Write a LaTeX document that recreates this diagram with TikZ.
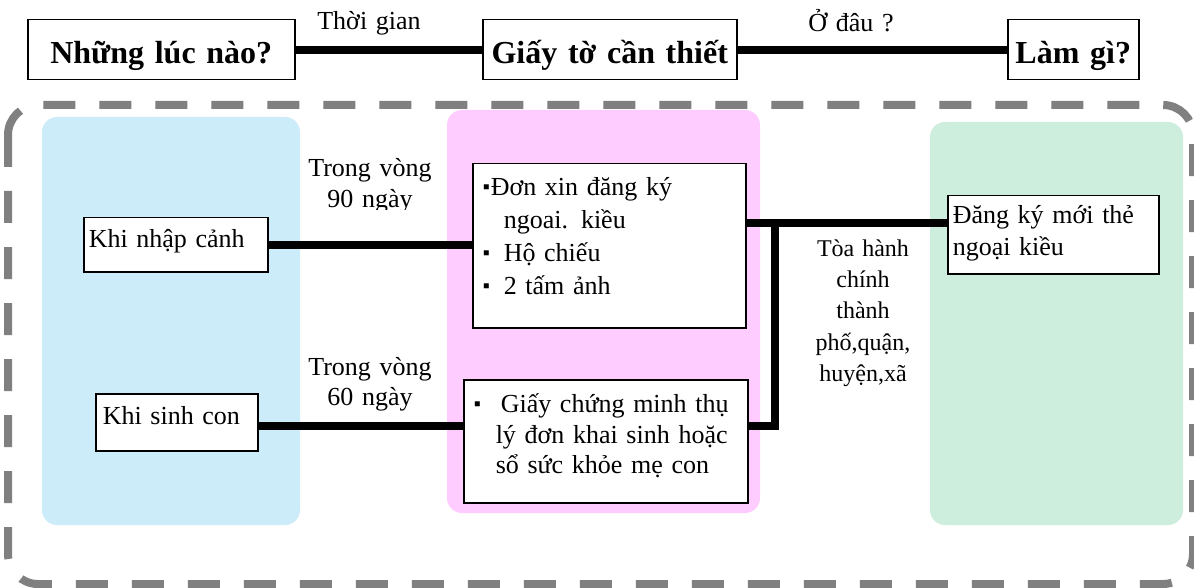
\documentclass[tikz,border=0pt]{standalone}
\usepackage{fontspec}
\setmainfont{Liberation Serif}
\usepackage{tikz}

\definecolor{panelblue}{RGB}{204,236,249}
\definecolor{panelpink}{RGB}{255,204,255}
\definecolor{panelgreen}{RGB}{205,238,220}
\definecolor{framegray}{RGB}{128,128,128}

\newcommand{\blt}{{\fontsize{20}{20}\selectfont\raisebox{2pt}{▪}}}

\begin{document}
\begin{tikzpicture}[x=1pt,y=1pt,yscale=-1,xscale=1,
	title/.style={draw,line width=1.5pt,fill=white,anchor=north west,inner sep=0pt,align=center,font=\fontsize{32}{38}\selectfont\bfseries},
	box/.style={draw,line width=1.5pt,fill=white,anchor=north west,inner ysep=0pt,inner xsep=5pt,align=left,font=\fontsize{26}{31}\selectfont},
	lbl/.style={anchor=base,inner sep=0pt,text width=150pt,align=center,font=\fontsize{26}{31}\selectfont},
	link/.style={line width=8pt},
	panel/.style={rounded corners=15pt}]
	\fill[white] (0,0) rectangle (1194,588);
	\useasboundingbox (0,0) rectangle (1194,588);

	%Shape: Rounded Rect (panels)
	\fill[panel,panelblue] (42,117) rectangle (300,525);
	\fill[panel,panelpink] (447,110) rectangle (760,513);
	\fill[panel,panelgreen] (930,122) rectangle (1183,525);
	%Shape: Rounded Rect (frame)
	\draw[framegray,line width=8pt,rounded corners=30pt,dash pattern=on 32pt off 24pt] (8,105) rectangle (1193,584);

	% Text Node
	\node[title,text width=267pt,text height=44pt,text depth=16pt] (when) at (27,19) {Những lúc nào?};
	\node[title,text width=254pt,text height=44pt,text depth=16pt] (docs) at (482,19) {Giấy tờ cần thiết};
	\node[title,text width=131pt,text height=44pt,text depth=16pt] (what) at (1007,19) {Làm gì?};
	\node[lbl] (time) at (369,30) {Thời gian};
	\node[lbl] (where) at (851,32) {Ở đâu ?};

	%Straight Lines
	\draw[link] (when.east) -- (docs.west);
	\draw[link] (docs.east) -- (docs.east -| what.west);

	% Text Node
	\node[box,text width=174pt,text height=30pt,text depth=24pt] (entry) at (83,217) {Khi nhập cảnh};
	\node[box,text width=148pt,inner xsep=7pt,text height=31pt,text depth=26pt] (birth) at (95,393) {Khi sinh con};
	\node[box,text width=263pt,text height=32pt,text depth=132pt,font=\fontsize{26}{33}\selectfont] (docsa) at (472,163)
		{\hspace*{5pt}\makebox[8pt][l]{\blt}Đơn xin đăng ký\\
		\hspace*{26pt}ngoai. kiều\\
		\hspace*{5pt}\makebox[21pt][l]{\blt}Hộ chiếu\\
		\hspace*{5pt}\makebox[21pt][l]{\blt}2 tấm ảnh};
	\node[box,text width=274pt,text height=33pt,text depth=90pt,font=\fontsize{26}{30.5}\selectfont] (docsb) at (463,379)
		{\makebox[274pt][s]{\hspace*{5pt}\makebox[27pt][l]{\blt}Giấy chứng minh thụ}\\
		\makebox[274pt][s]{\hspace*{27pt}lý đơn khai sinh hoặc}\\
		\hspace*{27pt}sổ sức khỏe mẹ con};
	\node[box,text width=201pt,text height=28pt,text depth=50pt,font=\fontsize{26}{32}\selectfont] (reg) at (947,195)
		{\makebox[201pt][s]{Đăng ký mới thẻ}\\ngoại kiều};

	% Text Node
	\begin{scope}
		\clip (300,140) rectangle (447,210);
		\node[lbl] (in90) at (370,177) {Trong vòng\\90 ngày};
	\end{scope}
	\node[lbl,font=\fontsize{26}{30}\selectfont] (in60) at (370,375) {Trong vòng\\60 ngày};
	\node[lbl,font=\fontsize{24}{31}\selectfont] (office) at (863,257) {Tòa hành\\chính\\thành\\phố,quận,\\huyện,xã};

	%Straight Lines
	\coordinate (fork) at (775,223);
	\coordinate (low) at (775,426);
	\draw[link] (entry.east) -- (entry.east -| docsa.west);
	\draw[link] (birth.east |- low) -- (low -| docsb.west);
	\draw[link] (docsa.east |- fork) -- (fork) -- (low) -- (low -| docsb.east);
	\draw[link] (fork) -- (fork -| reg.west);
\end{tikzpicture}
\end{document}
